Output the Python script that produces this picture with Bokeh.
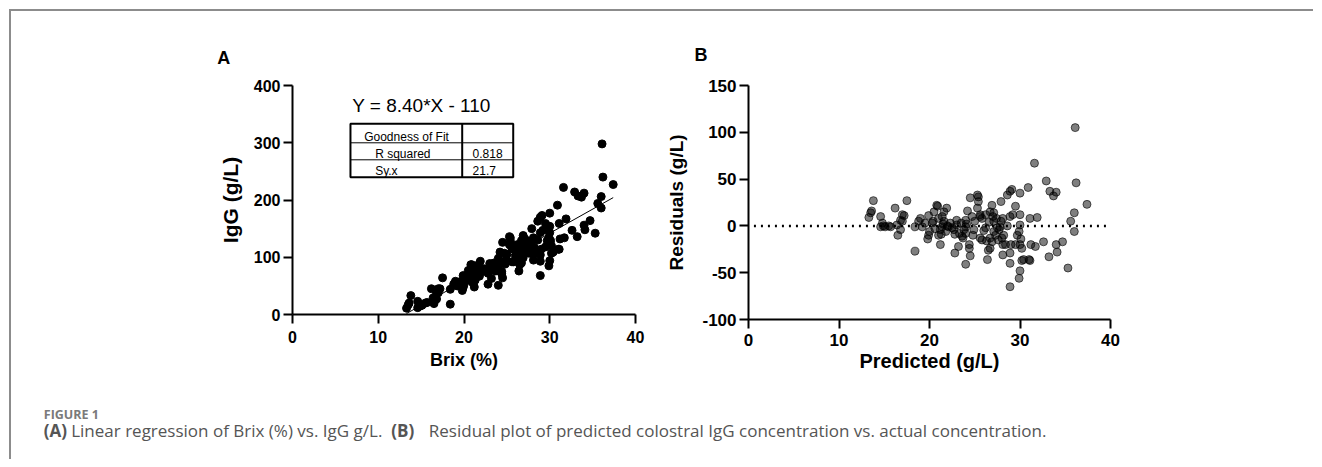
from bokeh.plotting import figure
from bokeh.layouts import row, column
from bokeh.models import FixedTicker, Label
from bokeh.embed import file_html
from bokeh.resources import INLINE
from bokeh.core.properties import value

# ---------------- data ----------------
brix = [36.1, 31.6, 32.9, 36.2, 30.9, 30.0, 29.1, 28.9, 28.6, 33.3, 34.0, 33.7, 37.4, 36.0, 35.6, 36.0,
        35.3, 34.7, 34.0, 34.1, 33.2, 32.6, 31.7, 31.2, 31.1, 31.1, 31.9, 30.0, 30.0, 29.9, 30.1, 30.0,
        30.2, 30.2, 30.0, 29.9, 28.9, 28.9, 28.9, 29.0, 29.5, 29.2, 29.5, 27.9, 28.1, 27.8, 28.6, 28.2,
        28.0, 27.6, 28.1, 28.1, 26.9, 26.7, 27.1, 27.4, 27.1, 27.5, 27.1, 26.7, 26.9, 26.7, 26.5, 26.4,
        26.2, 25.8, 25.6, 25.4, 25.4, 25.3, 25.6, 25.8, 24.9, 24.5, 24.2, 24.7, 24.4, 24.4, 24.5, 24.0,
        23.2, 22.8, 24.0, 24.0, 23.8, 23.7, 23.6, 23.0, 23.0, 22.7, 22.8, 22.1, 21.9, 21.6, 21.4, 21.6,
        21.4, 21.2, 21.3, 21.0, 21.2, 20.8, 20.9, 20.5, 20.4, 19.9, 20.0, 19.9, 19.8, 19.0, 18.8, 19.2,
        18.4, 18.4, 17.5, 17.2, 16.8, 17.0, 16.8, 16.4, 16.5, 16.2, 15.7, 14.6, 14.8, 14.6, 15.1, 13.8,
        13.6, 13.5, 13.3, 20.3, 20.6, 21.0, 21.5, 21.8, 22.3, 22.5, 23.3, 23.5, 24.0, 24.1, 25.0, 25.3,
        25.6, 26.0, 26.2, 26.6, 27.0, 27.3, 27.7, 28.4, 28.9, 29.7, 30.4, 31.0, 15.5, 14.9, 17.0, 19.5,
        22.0, 24.8, 26.3, 27.9]
igg = [298, 222, 214, 240, 191, 177, 173, 170, 163, 207, 212, 205, 227, 206, 194, 186,
       142, 164, 156, 148, 136, 147, 134, 132, 114, 159, 167, 154, 143, 135, 129, 122,
       120, 107, 94, 85, 68, 93, 104, 114, 118, 147, 159, 150, 134, 123, 130, 117,
       112, 107, 106, 95, 138, 129, 132, 128, 123, 119, 112, 101, 99, 90, 87, 76,
       108, 115, 117, 134, 129, 122, 92, 92, 95, 126, 109, 107, 75, 71, 64, 51,
       63, 53, 98, 91, 86, 76, 77, 89, 84, 77, 72, 75, 93, 86, 80, 76,
       69, 64, 60, 56, 48, 87, 87, 77, 66, 68, 52, 47, 42, 58, 53, 50,
       44, 18, 64, 45, 37, 38, 27, 29, 19, 45, 21, 23, 17, 12, 16, 33,
       20, 17, 11, 64, 60, 74, 73, 67, 80, 77, 78, 90, 84, 94, 105, 136,
       115, 103, 122, 117, 127, 109, 119, 109, 143, 129, 109, 114, 20, 15, 45, 57,
       75, 88, 95, 129]
resid = [105, 67, 48, 46, 41, 35, 39, 37, 33, 37, 36, 32, 23, 14, 5, -6,
         -45, -17, -20, -28, -33, -17, -22, -20, -37, 8, 9, 12, 1, -6, -14, -20,
         -24, -37, -48, -56, -65, -40, -29, -20, -20, 12, 21, 26, 8, -1, 0, -10,
         -13, -15, -20, -31, 22, 15, 14, 8, 5, -2, -6, -13, -17, -24, -26, -36,
         -2, 8, 12, 31, 26, 19, -13, -15, -4, 30, 16, 10, -20, -24, -32, -41,
         -22, -29, 6, -1, -4, -13, -11, 6, 1, -4, -9, -1, 19, 15, 10, 5,
         -1, -4, -9, -10, -20, 22, 21, 15, 5, 11, -6, -10, -14, 8, 5, -1,
         -1, -27, 27, 11, 6, 5, -4, 1, -10, 19, -1, 10, 3, -1, -1, 27,
         16, 14, 9, 3, -3, 8, 2, -6, 3, -2, -8, 3, -8, 2, 5, 33,
         10, -5, 12, 4, 10, -10, -4, -20, 10, -10, -36, -36, 0, 0, 12, 3,
         0, -10, -16, 5]

slope = 8.40
intercept = -110.0
x_ticks = [0, 10, 20, 30, 40]
igg_ticks = [0, 100, 200, 300, 400]
resid_ticks = [-100, -50, 0, 50, 100, 150]
fit_rows = ["Goodness of Fit", "R squared", "Sy.x"]
fit_vals = ["", "0.818", "21.7"]

ARIAL = "Liberation Sans"
CAPFONT = "Open Sans"


def style(p, xt, yt, tick_px, lab_px):
    p.xaxis.ticker = FixedTicker(ticks=xt)
    p.yaxis.ticker = FixedTicker(ticks=yt)
    for ax in p.xaxis + p.yaxis:
        ax.axis_line_width = 2
        ax.axis_line_color = "black"
        ax.major_tick_line_width = 2
        ax.major_tick_line_color = "black"
        ax.major_tick_out = 9
        ax.major_tick_in = 0
        ax.minor_tick_line_color = None
        ax.major_label_text_font = ARIAL
        ax.major_label_text_font_style = "bold"
        ax.major_label_text_font_size = tick_px
        ax.major_label_text_color = "black"
        ax.axis_label_text_font = ARIAL
        ax.axis_label_text_font_style = "bold"
        ax.axis_label_text_font_size = lab_px
        ax.axis_label_text_color = "black"
    p.yaxis.major_label_standoff = 3
    p.grid.visible = False
    p.outline_line_color = None


# ---------------- panel letters strip ----------------
pT = figure(frame_width=1302, frame_height=66, x_range=(0, 1302), y_range=(66, 0),
            min_border=0, output_backend="svg", toolbar_location=None)
pT.axis.visible = False
pT.grid.visible = False
pT.outline_line_color = None
pT.text(x=[205.7, 683], y=[46, 43], text=["A", "B"], text_font=value(ARIAL),
        text_font_style="bold", text_font_size="18px", text_color="black",
        text_baseline="alphabetic")

# ---------------- panel A ----------------
pA = figure(frame_width=343, frame_height=229, x_range=(0, 40), y_range=(0, 400),
            min_border_left=281, min_border_right=28, min_border_top=8, min_border_bottom=76,
            output_backend="svg", toolbar_location=None)
style(pA, x_ticks, igg_ticks, "16px", "18px")
pA.xaxis.axis_label = "Brix (%)"
pA.yaxis.axis_label = "IgG (g/L)"
pA.yaxis.axis_label_text_font_size = "21px"
pA.xaxis.major_label_standoff = 7
pA.xaxis.axis_label_standoff = 4
pA.yaxis.axis_label_standoff = 9

fx = [min(brix), max(brix)]
fy = [slope * v + intercept for v in fx]
pA.line(fx, fy, line_color="black", line_width=1)
pA.scatter(brix, igg, size=8, fill_color="black", line_color="black")

pA.add_layout(Label(x=6.96, y=365, text="Y = 8.40*X - 110", text_font=ARIAL,
                    text_font_size="19px", text_baseline="alphabetic", text_color="black"))
# goodness-of-fit table
tx0, tx1, tx2 = 6.76, 19.79, 25.74
ty = [333.1, 299.9, 270.2, 239.8]
pA.segment(x0=[tx0, tx0], y0=[ty[1], ty[2]], x1=[tx2, tx2], y1=[ty[1], ty[2]],
           line_color="black", line_width=1)
pA.quad(left=[tx0], right=[tx2], top=[ty[0]], bottom=[ty[3]], fill_color=None,
        line_color="black", line_width=2)
pA.segment(x0=[tx1], y0=[ty[0]], x1=[tx1], y1=[ty[3]], line_color="black", line_width=2)
row_base = [310.5, 281, 251.5]
row_x = [13.3, 9.64, 9.64]
row_align = ["center", "left", "left"]
for t, xx, yy, al in zip(fit_rows, row_x, row_base, row_align):
    pA.add_layout(Label(x=xx, y=yy, text=t, text_font=ARIAL, text_font_size="12px",
                        text_align=al, text_baseline="alphabetic", text_color="black"))
for t, yy in zip(fit_vals, row_base):
    if t:
        pA.add_layout(Label(x=21.0, y=yy, text=t, text_font=ARIAL, text_font_size="12px",
                            text_baseline="alphabetic", text_color="black"))

# ---------------- panel B ----------------
pB = figure(frame_width=362, frame_height=234, x_range=(0, 40), y_range=(-100, 150),
            min_border_left=68, min_border_right=203, min_border_top=4, min_border_bottom=75,
            output_backend="svg", toolbar_location=None)
style(pB, x_ticks, resid_ticks, "17px", "20px")
pB.yaxis.axis_label_text_font_size = "19px"
pB.xaxis.axis_label = "Predicted (g/L)"
pB.yaxis.axis_label = "Residuals (g/L)"
pB.xaxis.major_label_standoff = 5
pB.xaxis.axis_label_standoff = 1
pB.yaxis.axis_label_standoff = 12
pB.yaxis.major_label_overrides = {t: str(t) for t in resid_ticks}
pB.line([0.6, 39.5], [0, 0], line_color="black", line_width=2.5, line_dash="2 5")
pB.scatter(brix, resid, size=8, fill_color="black", fill_alpha=0.5,
           line_color="black", line_alpha=0.6, line_width=1)

# ---------------- caption ----------------
pC = figure(frame_width=1302, frame_height=69, x_range=(0, 1302), y_range=(69, 0),
            min_border=0, output_backend="svg", toolbar_location=None)
pC.axis.visible = False
pC.grid.visible = False
pC.outline_line_color = None
pC.text(x=[32.3], y=[24], text=["FIGURE 1"], text_font=value(CAPFONT), text_font_style="bold",
        text_font_size="12.5px", text_color="#7a7a7a", text_baseline="alphabetic")
pC.text(x=[32.3, 379.7], y=[40, 40], text=["(A)", "(B)"], text_font=value(CAPFONT),
        text_font_style="bold", text_font_size="17px", text_color="#555555",
        text_baseline="alphabetic")
pC.text(x=[59.7, 417.3], y=[40, 40],
        text=["Linear regression of Brix (%) vs. IgG g/L.",
              "Residual plot of predicted colostral IgG concentration vs. actual concentration."],
        text_font=value(CAPFONT), text_font_size="17px", text_color="#555555",
        text_baseline="alphabetic")

layout = column(pT, row(pA, pB), pC,
                styles={"border-top": "2px solid #8c8c8c", "border-left": "2px solid #8c8c8c",
                        "margin-left": "9px", "margin-top": "9px"})

open("out.html", "w").write(file_html(layout, INLINE))
